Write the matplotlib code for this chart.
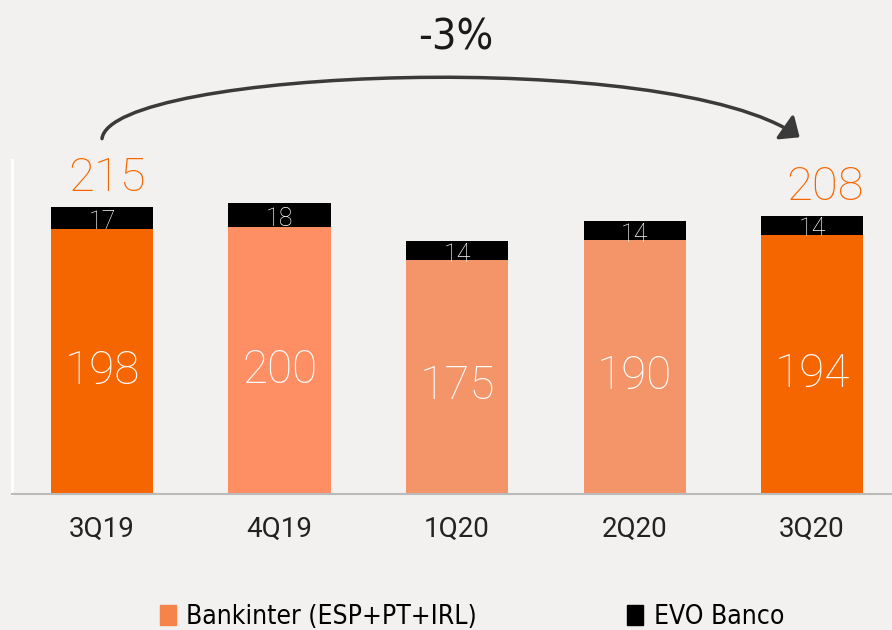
import matplotlib
matplotlib.use("Agg")
import matplotlib.pyplot as plt
from matplotlib.patches import FancyArrowPatch, Patch
from matplotlib.path import Path

quarters = ["3Q19", "4Q19", "1Q20", "2Q20", "3Q20"]
bankinter = [198, 200, 175, 190, 194]
evo = [17, 18, 14, 14, 14]
totals_shown = {0: 215, 4: 208}
change_label = "-3%"

bank_colors = ["#F66600", "#FE8E64", "#F39469", "#F39469", "#F66600"]
legend_orange = "#F5844A"
num_font = ["Roboto", "DejaVu Sans"]

fig = plt.figure(figsize=(8.92, 6.30), dpi=100)
fig.patch.set_facecolor("#F2F1EF")
ax = fig.add_axes([12 / 892, 1 - 494 / 630, 880 / 892, 334 / 630])
ax.set_facecolor("none")

x = list(range(len(quarters)))
w = 0.575
ax.bar(x, bankinter, width=w, color=bank_colors, zorder=2)
ax.bar(x, evo, width=w, bottom=bankinter, color="black", zorder=2)

for i in x:
    ax.text(i, bankinter[i] / 2 - 7, str(bankinter[i]), ha="center", va="center",
            color="white", fontsize=33, family=num_font, fontweight="light")
    ax.text(i, bankinter[i] + evo[i] / 2 - 3, str(evo[i]), ha="center", va="center",
            color="white", fontsize=18, family=num_font, fontweight="light")

for i, t in totals_shown.items():
    dx = 0.07 if i == len(quarters) - 1 else 0.03
    ax.text(i + dx, bankinter[i] + evo[i] + 5, str(t), ha="center", va="bottom",
            color="#F66600", fontsize=34, family=num_font, fontweight="light")

# curved arrow from first to last quarter
arc = Path([(0.0, 266), (0.05, 318), (3.2, 335), (3.93, 267)],
           [Path.MOVETO, Path.CURVE4, Path.CURVE4, Path.CURVE4])
arrow = FancyArrowPatch(path=arc, arrowstyle="-|>,head_length=7,head_width=6", lw=2.5,
                        color="#3A3A3A", clip_on=False, mutation_scale=1.5)
ax.add_patch(arrow)
ax.text(1.99, 342, change_label, ha="center", va="center", fontsize=31,
        family="DejaVu Sans", stretch="condensed", color="#1A1A1A", clip_on=False)

ax.set_xlim(-0.507, 4.45)
ax.set_ylim(0, 250)
ax.set_xticks(x)
ax.set_xticklabels(quarters, fontsize=20, family=num_font, color="#222222")
ax.tick_params(axis="x", length=0, pad=16)
ax.set_yticks([])
for s in ["top", "right"]:
    ax.spines[s].set_visible(False)
ax.spines["left"].set_color("white")
ax.spines["left"].set_linewidth(2)
ax.spines["bottom"].set_color("#BBBBBB")
ax.spines["bottom"].set_linewidth(1.5)

handles = [Patch(color=legend_orange, label="Bankinter (ESP+PT+IRL)"),
           Patch(color="black", label="EVO Banco")]
fig.legend(handles=handles, loc="center", bbox_to_anchor=(472 / 892, 1 - 617 / 630),
           ncol=2, frameon=False, handlelength=0.6, handleheight=0.8,
           handletextpad=0.4, columnspacing=5.7,
           prop={"family": "DejaVu Sans", "stretch": "condensed", "size": 19})

fig.savefig("out.png", dpi=100, facecolor=fig.get_facecolor())
